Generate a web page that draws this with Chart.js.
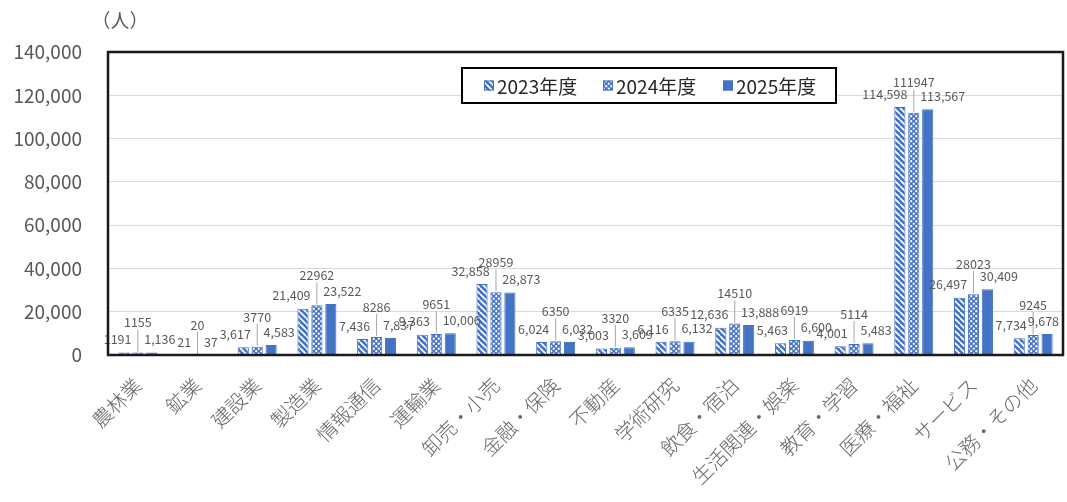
<!DOCTYPE html>
<html>
<head>
<meta charset="utf-8">
<script src="https://cdn.jsdelivr.net/npm/chart.js@4/dist/chart.umd.min.js"></script>
<style>
  html, body { margin: 0; padding: 0; background: #ffffff; }
  #chart { display: block; }
</style>
</head>
<body>
<canvas id="chart" width="1067" height="502"></canvas>
<script>
// ====== Data ======
const categories = ['農林業', '鉱業', '建設業', '製造業', '情報通信', '運輸業', '卸売・小売', '金融・保険',
    '不動産', '学術研究', '飲食・宿泊', '生活関連・娯楽', '教育・学習', '医療・福祉', 'サービス', '公務・その他'];
const seriesNames = ['2023年度', '2024年度', '2025年度'];
const fy2023 = [1191, 21, 3617, 21409, 7436, 9363, 32858, 6024, 3003, 6116, 12636, 5463, 4001, 114598, 26497, 7734];
const fy2024 = [1155, 20, 3770, 22962, 8286, 9651, 28959, 6350, 3320, 6335, 14510, 6919, 5114, 111947, 28023, 9245];
const fy2025 = [1136, 37, 4583, 23522, 7837, 10006, 28873, 6032, 3609, 6132, 13888, 6600, 5483, 113567, 30409, 9678];
const yTicks = [0, 20000, 40000, 60000, 80000, 100000, 120000, 140000];
const unitLabel = '（人）';

const BLUE = '#4472C4';
const FONT = '"Noto Sans CJK JP", "Noto Sans", sans-serif';

// ====== Patterns ======
function stripePattern() {
    const c = document.createElement('canvas');
    c.width = 6; c.height = 6;
    const g = c.getContext('2d');
    g.fillStyle = BLUE;
    g.fillRect(0, 0, 6, 6);
    g.strokeStyle = '#ffffff';
    g.lineWidth = 1.7;
    g.beginPath();
    for (let k = -6; k <= 12; k += 6) {
        g.moveTo(k, 0);
        g.lineTo(k + 6, 6);
    }
    g.stroke();
    return g.createPattern(c, 'repeat');
}

function dotPattern() {
    const c = document.createElement('canvas');
    c.width = 5; c.height = 5;
    const g = c.getContext('2d');
    g.fillStyle = BLUE;
    g.fillRect(0, 0, 5, 5);
    g.fillStyle = '#ffffff';
    [[1.25, 1.25], [3.75, 3.75]].forEach(([x, y]) => {
        g.beginPath();
        g.arc(x, y, 1.15, 0, Math.PI * 2);
        g.fill();
    });
    return g.createPattern(c, 'repeat');
}

const fills = [stripePattern(), dotPattern(), BLUE];

// ====== Label text ======
function labelText(dsIndex, catIndex, v) {
    // 2024 labels are shown without separators, as is the first 2023 one
    if (dsIndex === 1 || (dsIndex === 0 && catIndex === 0)) return String(v);
    return v.toLocaleString('en-US');
}

// ====== Plugins ======
const dataLabels = {
    id: 'dataLabels',
    afterDatasetsDraw(chart) {
        const ctx = chart.ctx;
        const area = chart.chartArea;
        ctx.save();
        ctx.font = '12.5px ' + FONT;
        ctx.fillStyle = '#595959';
        ctx.textBaseline = 'middle';
        chart.data.datasets.forEach((ds, i) => {
            const meta = chart.getDatasetMeta(i);
            meta.data.forEach((bar, j) => {
                const txt = labelText(i, j, ds.data[j]);
                const half = bar.width / 2;
                const tw = ctx.measureText(txt).width;
                if (i === 0) {
                    ctx.textAlign = 'right';
                    ctx.fillText(txt, bar.x + half + 2, bar.y - 13);
                } else if (i === 2) {
                    ctx.textAlign = 'left';
                    const x = Math.min(bar.x - half - 2, area.right - 4 - tw);
                    ctx.fillText(txt, x, bar.y - 13);
                } else {
                    ctx.textAlign = 'center';
                    ctx.fillText(txt, bar.x, bar.y - 30);
                    ctx.strokeStyle = '#a6a6a6';
                    ctx.lineWidth = 1;
                    ctx.beginPath();
                    ctx.moveTo(bar.x, bar.y - 23);
                    ctx.lineTo(bar.x, bar.y - 1);
                    ctx.stroke();
                }
            });
        });
        ctx.restore();
    }
};

const frame = {
    id: 'frame',
    afterDraw(chart) {
        const ctx = chart.ctx;
        const a = chart.chartArea;
        ctx.save();
        // plot border
        ctx.strokeStyle = '#1a1a1a';
        ctx.lineWidth = 2.5;
        ctx.strokeRect(a.left, a.top, a.right - a.left, a.bottom - a.top);

        // unit label
        ctx.font = '19px ' + FONT;
        ctx.fillStyle = '#595959';
        ctx.textAlign = 'center';
        ctx.textBaseline = 'middle';
        ctx.fillText(unitLabel, 120, 21);

        // legend
        const lx = 462, ly = 68, lw = 374, lh = 35;
        ctx.fillStyle = '#ffffff';
        ctx.fillRect(lx, ly, lw, lh);
        ctx.strokeStyle = '#000000';
        ctx.lineWidth = 2;
        ctx.strokeRect(lx, ly, lw, lh);
        ctx.font = '19px ' + FONT;
        ctx.textAlign = 'left';
        const starts = [484, 603, 723];
        seriesNames.forEach((name, i) => {
            const sx = starts[i], sy = ly + lh / 2;
            ctx.fillStyle = fills[i];
            ctx.fillRect(sx, sy - 5, 10, 10);
            ctx.strokeStyle = BLUE;
            ctx.lineWidth = 1;
            ctx.strokeRect(sx + 0.5, sy - 4.5, 9, 9);
            ctx.fillStyle = '#262626';
            ctx.fillText(name, sx + 13, sy + 1);
        });
        ctx.restore();
    }
};

// ====== Chart ======
new Chart(document.getElementById('chart'), {
    type: 'bar',
    data: {
        labels: categories,
        datasets: [fy2023, fy2024, fy2025].map((values, i) => ({
            label: seriesNames[i],
            data: values,
            backgroundColor: fills[i],
            borderColor: BLUE,
            borderWidth: 1,
            categoryPercentage: 0.7,
            barPercentage: 0.8
        }))
    },
    options: {
        responsive: false,
        animation: false,
        layout: { padding: { top: 52, right: 4, left: 0, bottom: 0 } },
        plugins: {
            legend: { display: false },
            tooltip: { enabled: false }
        },
        scales: {
            x: {
                grid: { display: false },
                border: { display: false },
                ticks: {
                    color: '#666666',
                    font: { size: 20, family: FONT, weight: '300' },
                    minRotation: 45,
                    maxRotation: 45,
                    autoSkip: false,
                    padding: 10
                },
                afterFit(scale) { scale.height = 147; }
            },
            y: {
                min: 0,
                max: 140000,
                afterBuildTicks(scale) { scale.ticks = yTicks.map(v => ({ value: v })); },
                grid: { color: '#d9d9d9', drawTicks: false },
                border: { display: false },
                ticks: {
                    color: '#595959',
                    font: { size: 19, family: FONT },
                    padding: 26,
                    callback: (v) => v.toLocaleString('en-US')
                },
                afterFit(scale) { scale.width = 108; }
            }
        }
    },
    plugins: [dataLabels, frame]
});
</script>
</body>
</html>
